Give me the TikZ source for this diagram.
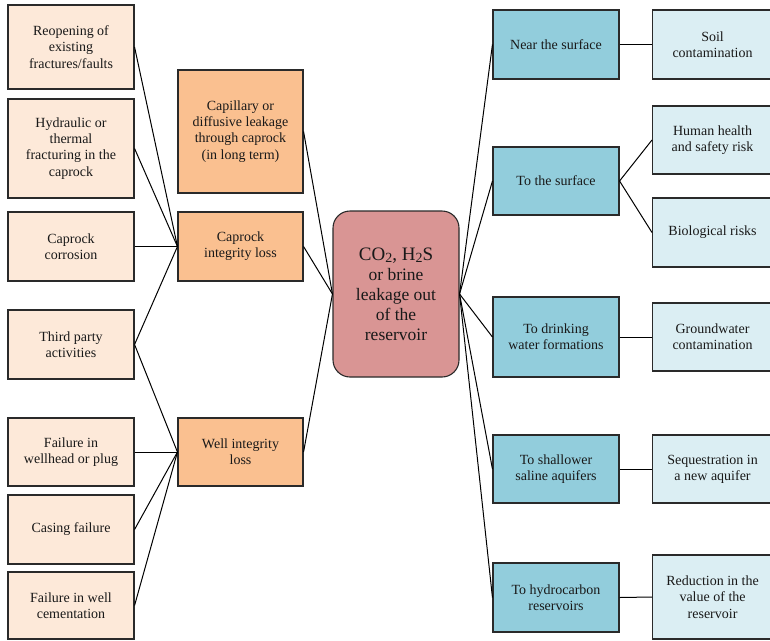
\documentclass[tikz,border=0pt]{standalone}
\usepackage{fontspec}
\setmainfont{Liberation Serif}
\definecolor{peach}{HTML}{FDE9D9}
\definecolor{orng}{HTML}{FAC090}
\definecolor{pinkc}{HTML}{D99594}
\definecolor{blu}{HTML}{92CDDC}
\definecolor{lblu}{HTML}{DBEEF3}
\definecolor{edge}{HTML}{2A2A2A}
\begin{document}
\begin{tikzpicture}[x=1pt,y=-1pt,
  box/.style={rectangle, draw=edge, line width=1.1pt, align=center, inner sep=0pt,
    font=\fontsize{14}{16.2}\selectfont, text=black!90},
  lbox/.style={box, fill=peach, minimum width=126pt},
  obox/.style={box, fill=orng, minimum width=125pt},
  bbox/.style={box, fill=blu, minimum width=126pt},
  cbox/.style={box, fill=lblu, minimum width=128pt},
  link/.style={draw=black, line width=1pt}]
\useasboundingbox (0,0) rectangle (770,640);
% left column
\node[lbox, minimum height=84pt] (L1) at (71,47) {Reopening of\\existing\\fractures/faults};
\node[lbox, minimum height=99pt] (L2) at (71,148.5) {Hydraulic or\\thermal\\fracturing in the\\caprock};
\node[lbox, minimum height=69pt] (L3) at (71,246.5) {Caprock\\corrosion};
\node[lbox, minimum height=69pt] (L4) at (71,344.5) {Third party\\activities};
\node[lbox, minimum height=68pt] (L5) at (71,452) {Failure in\\wellhead or plug};
\node[lbox, minimum height=69pt] (L6) at (71,529.5) {Casing failure};
\node[lbox, minimum height=67pt] (L7) at (71,605.5) {Failure in well\\cementation};
% orange column
\node[obox, minimum height=123pt] (O1) at (240.5,131.5) {Capillary or\\diffusive leakage\\through caprock\\(in long term)};
\node[obox, minimum height=69pt] (O2) at (240.5,246.5) {Caprock\\integrity loss};
\node[obox, minimum height=68pt] (O3) at (240.5,452) {Well integrity\\loss};
% centre
\node[box, fill=pinkc, rounded corners=17pt, minimum width=126pt, minimum height=166pt,
  font=\fontsize{17.5}{20}\selectfont] (C) at (396,294)
  {{\fontsize{19}{20}\selectfont CO\raisebox{-0.3ex}{\fontsize{14}{14}\selectfont 2}, H\raisebox{-0.3ex}{\fontsize{14}{14}\selectfont 2}S}\\or brine\\leakage out\\of the\\reservoir};
% blue column
\node[bbox, minimum height=69pt] (B1) at (556,44.5) {Near the surface};
\node[bbox, minimum height=68pt] (B2) at (556,181) {To the surface};
\node[bbox, minimum height=80pt] (B3) at (556,337) {To drinking\\water formations};
\node[bbox, minimum height=68pt] (B4) at (556,469) {To shallower\\saline aquifers};
\node[bbox, minimum height=69pt] (B5) at (556,597.5) {To hydrocarbon\\reservoirs};
% consequences (cut by right edge)
\node[cbox, minimum height=69pt, anchor=west] (S1) at (652,44.5) {\hspace*{-8pt}Soil\\\hspace*{-8pt}contamination};
\node[cbox, minimum height=68pt, anchor=west] (S2) at (652,140) {\hspace*{-8pt}Human health\\\hspace*{-8pt}and safety risk};
\node[cbox, minimum height=69pt, anchor=west] (S3) at (652,232.5) {\hspace*{-8pt}Biological risks};
\node[cbox, minimum height=68pt, anchor=west] (S4) at (652,337) {\hspace*{-8pt}Groundwater\\\hspace*{-8pt}contamination};
\node[cbox, minimum height=68pt, anchor=west] (S5) at (652,469) {\hspace*{-8pt}Sequestration in\\\hspace*{-8pt}a new aquifer};
\node[cbox, minimum height=84pt, anchor=west] (S6) at (652,597) {\hspace*{-8pt}Reduction in the\\\hspace*{-8pt}value of the\\\hspace*{-8pt}reservoir};
% connectors left
\path[link] (L1.east) -- (O2.west);
\path[link] (L2.east) -- (O2.west);
\path[link] (L3.east) -- (O2.west);
\path[link] (L4.east) -- (O2.west);
\path[link] (L4.east) -- (O3.west);
\path[link] (L5.east) -- (O3.west);
\path[link] (L6.east) -- (O3.west);
\path[link] (L7.east) -- (O3.west);
\path[link] (O1.east) -- (C.west);
\path[link] (O2.east) -- (C.west);
\path[link] (O3.east) -- (C.west);
% connectors right
\path[link] (C.east) -- (B1.west);
\path[link] (C.east) -- (B2.west);
\path[link] (C.east) -- (B3.west);
\path[link] (C.east) -- (B4.west);
\path[link] (C.east) -- (B5.west);
\path[link] (B1.east) -- (S1.west);
\path[link] (B2.east) -- (S2.west);
\path[link] (B2.east) -- (S3.west);
\path[link] (B3.east) -- (S4.west);
\path[link] (B4.east) -- (S5.west);
\path[link] (B5.east) -- (S6.west);
\end{tikzpicture}
\end{document}
